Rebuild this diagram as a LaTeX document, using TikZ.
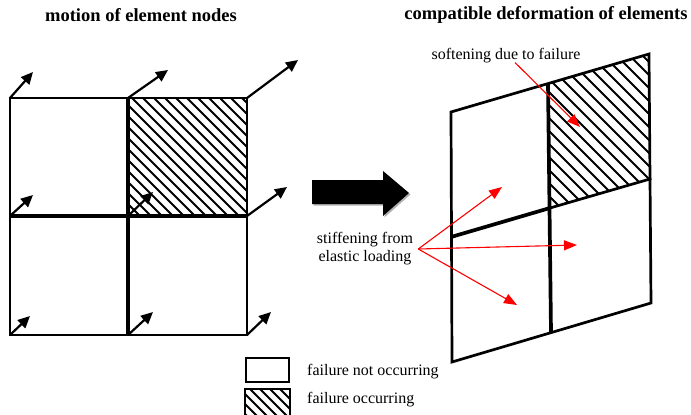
\documentclass[tikz,border=0pt]{standalone}
\usepackage{fontspec}
\setmainfont{Liberation Serif}
\usetikzlibrary{arrows.meta}

\begin{document}
\begin{tikzpicture}[x=1pt,y=-1pt,
grid/.style = {line width=2.7pt, line join=miter, line cap=rect},
mid/.style = {line width=3.7pt},
motion/.style = {line width=2.2pt, -{Triangle[length=12pt,width=11pt]}},
soft/.style = {red, line width=1.1pt, -{Triangle[length=13pt,width=10pt]}},
txt/.style = {font=\fontsize{16}{18}\selectfont, inner sep=2pt},
title/.style = {font=\fontsize{18.5}{22}\selectfont\bfseries},
hatch/.style = {line width=2pt}]
\useasboundingbox (0,0) rectangle (691,415);

% titles
\node[title] (t1) at (141,15) {motion of element nodes};
\node[title] (t2) at (546,15) {compatible deformation of elements};

% left grid: element nodes
\coordinate (L00) at (10,98);  \coordinate (L01) at (128,98);  \coordinate (L02) at (247,98);
\coordinate (L10) at (10,216); \coordinate (L11) at (128,216); \coordinate (L12) at (247,216);
\coordinate (L20) at (10,335); \coordinate (L21) at (128,335); \coordinate (L22) at (247,335);

\begin{scope}
  \clip (L01) rectangle (L12);
  \foreach \k in {0,11,...,250} \draw[hatch] (\k,98) -- ++(130,130);
\end{scope}
\draw[grid] (L00) rectangle (L22);
\draw[mid] (L10) -- (L12);
\draw[mid] (L01) -- (L21);

% motion of the nodes
\coordinate (m00) at (33,72);  \coordinate (m01) at (168,70);  \coordinate (m02) at (298,60);
\coordinate (m10) at (33,195); \coordinate (m11) at (153,192); \coordinate (m12) at (287,187);
\coordinate (m20) at (30,316); \coordinate (m21) at (153,312); \coordinate (m22) at (271,312);
\draw[motion] (L00) -- (m00);
\draw[motion] (L01) -- (m01);
\draw[motion] (L02) -- (m02);
\draw[motion] (L10) -- (m10);
\draw[motion] (L11) -- (m11);
\draw[motion] (L12) -- (m12);
\draw[motion] (L20) -- (m20);
\draw[motion] (L21) -- (m21);
\draw[motion] (L22) -- (m22);

% big arrow
\fill[black!30] (313.5,181.5) -- (384.5,181.5) -- (384.5,172.5) -- (410.5,194.5)
  -- (384.5,217.5) -- (384.5,205.5) -- (313.5,205.5) -- cycle;
\fill (312,180) -- (383,180) -- (383,171) -- (409,193)
  -- (383,216) -- (383,204) -- (312,204) -- cycle;

% right grid: deformed elements
\coordinate (R00) at (451,112); \coordinate (R01) at (548,83);  \coordinate (R02) at (649,54);
\coordinate (R10) at (451,237); \coordinate (R11) at (550,208); \coordinate (R12) at (650,179);
\coordinate (R20) at (452,362); \coordinate (R21) at (551,332); \coordinate (R22) at (651,303);

\begin{scope}
  \clip (R01) -- (R02) -- (R12) -- (R11) -- cycle;
  \foreach \k in {380,393,...,660} \draw[hatch] (\k,40) -- ++(180,180);
\end{scope}
\draw[grid] (R00) -- (R02) -- (R22) -- (R20) -- cycle;
\draw[grid] (R11) -- (R12);
\draw[mid] (R10) -- (R11);
\draw[mid] (R01) -- (R21);

% labels and red arrows
\node[txt] (soft) at (506,56) {softening due to failure};
\node[txt, align=center, inner sep=5pt] (stiff) at (365,249) {stiffening from\\elastic loading};
\coordinate (s0) at (580,127);
\coordinate (e1) at (502,187);
\coordinate (e2) at (577,245);
\coordinate (e3) at (517,305);
\draw[soft] ([xshift=9pt,yshift=3pt]soft.south) -- (s0);
\draw[soft] (stiff.east) -- (e1);
\draw[soft] (stiff.east) -- (e2);
\draw[soft] (stiff.east) -- (e3);

% legend
\node[draw, line width=2.4pt, minimum width=43pt, minimum height=24pt, inner sep=0pt] (k1) at (267.5,370) {};
\begin{scope}
  \clip (245,389) rectangle (290,420);
  \foreach \k in {190,200,...,290} \draw[hatch] (\k,389) -- ++(40,40);
\end{scope}
\draw[grid] (245,420) -- (245,389) -- (290,389) -- (290,420);
\node[txt, anchor=west] (k1t) at (305,372) {failure not occurring};
\node[txt, anchor=west] (k2t) at (305,400) {failure occurring};
\end{tikzpicture}
\end{document}
